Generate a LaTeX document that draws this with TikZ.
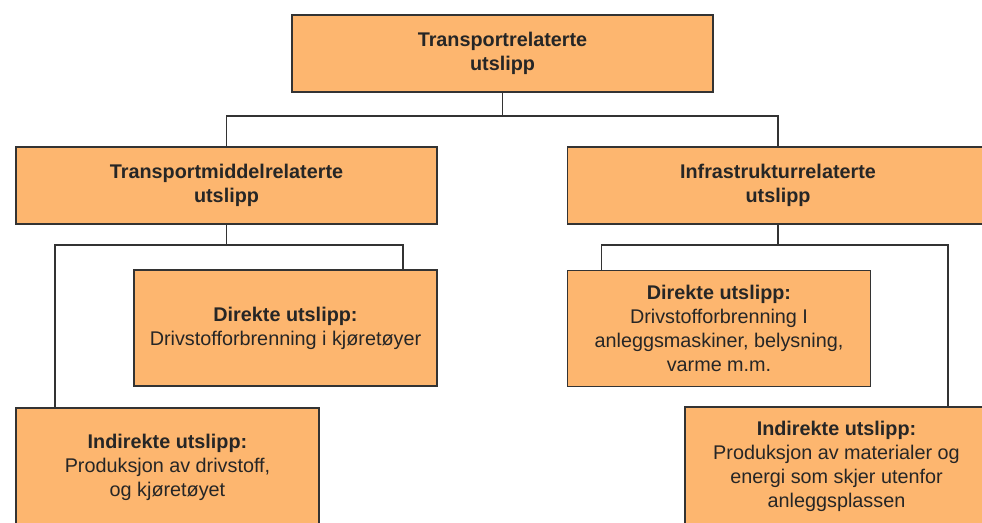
\documentclass[tikz,border=0pt]{standalone}
\usepackage{fontspec}
\setmainfont{Liberation Sans}
\usepackage{tikz}
\definecolor{boxfill}{HTML}{FDB66F}
\definecolor{linegray}{HTML}{333333}

\begin{document}
\begin{tikzpicture}[x=1pt, y=-1pt,
		box/.style = {draw = linegray, line width = 1.8pt, fill = boxfill, align = center, inner sep = 0pt,
			font = \fontsize{19.8}{24}\selectfont, text = black!85},
		wide/.style = {box, minimum width = 421pt, minimum height = 77pt},
		small/.style = {box, minimum width = 303pt, minimum height = 116pt},
		link/.style = {draw = linegray, line width = 1.5pt}]
		\useasboundingbox (0,0) rectangle (982,522);
		\clip (0,0) rectangle (982,522);
		\node [wide] (top) at (502.5,53.5) {\textbf{Transportrelaterte}\\\textbf{utslipp}};
		\node [wide] (vehicle) at (226.5,185.5) {\textbf{Transportmiddelrelaterte}\\\textbf{utslipp}};
		\node [wide] (infra) at (778,185.5) {\textbf{Infrastrukturrelaterte}\\\textbf{utslipp}};
		\node [small] (dirL) at (285.5,328) {\textbf{Direkte utslipp:}\\Drivstofforbrenning i kjøretøyer};
		\node [small] (dirR) at (719,328.5) {\textbf{Direkte utslipp:}\\Drivstofforbrenning I\\anleggsmaskiner, belysning,\\varme m.m.};
		\node [small, minimum height = 118pt] (indL) at (167.5,467) {\textbf{Indirekte utslipp:}\\Produksjon av drivstoff,\\og kjøretøyet};
		\node [small, minimum height = 118pt] (indR) at (836.5,466) {\textbf{Indirekte utslipp:}\\Produksjon av materialer og\\energi som skjer utenfor\\anleggsplassen};
		% tree lines
		\draw [link] (top.south) -- ++(0,23) -| (vehicle.north);
		\draw [link] (top.south) ++(0,23) -| (infra.north);
		\draw [link] (vehicle.south) -- ++(0,20) -| ([xshift=-35pt]dirL.north east);
		\draw [link] (vehicle.south) ++(0,20) -| ([xshift=40pt]indL.north west);
		\draw [link] (infra.south) -- ++(0,20) -| ([xshift=35pt]dirR.north west);
		\draw [link] (infra.south) ++(0,20) -| ([xshift=264pt]indR.north west);
	\end{tikzpicture}
\end{document}
